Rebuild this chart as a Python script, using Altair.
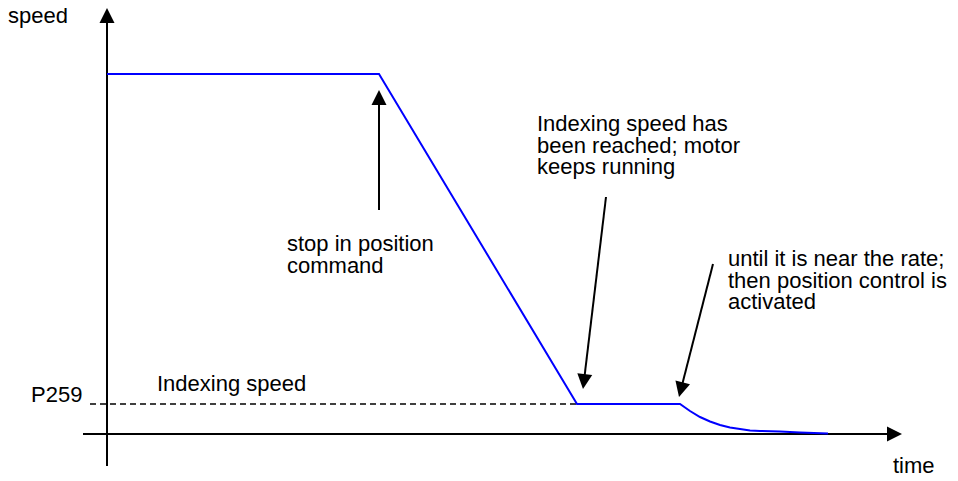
import math
import altair as alt
import pandas as pd

# ---- data (time / speed units) ----
profile_t = [0, 27.2, 47.0, 57.3, 58.3, 59.3, 60.3, 61.3, 62.3, 63.3, 64.3, 65.3, 67.3, 69.3, 72.1]
profile_s = [36, 36, 3.0, 3.0, 2.3, 1.7, 1.25, 0.9, 0.65, 0.5, 0.35, 0.3, 0.25, 0.15, 0.05]

indexing_speed = 3.0
dash_t = [-1.7, 47.0]

axis_x_t = [-2.4, 79.5]   # x axis from, tip
axis_y_s = [-3.2, 42.6]   # y axis from, tip

# annotation arrows: start (t, s) -> tip (t, s)
arrow_start_t = [27.2, 49.9, 60.6]
arrow_start_s = [22.4, 23.7, 17.0]
arrow_tip_t = [27.2, 47.6, 57.2]
arrow_tip_s = [34.4, 4.5, 3.7]

label_text = ["speed", "Indexing speed has", "been reached; motor", "keeps running",
              "stop in position", "command", "until it is near the rate;",
              "then position control is", "activated", "Indexing speed", "P259", "time"]
label_t = [-9.9, 43.0, 43.0, 43.0, 18.0, 18.0, 62.1, 62.1, 62.1, 5.0, -7.6, 78.6]
label_s = [41.1, 30.3, 28.15, 26.0, 18.3, 16.1, 16.8, 14.65, 12.5, 4.35, 3.2, -3.85]

# ---- geometry helpers (scales: 10 px per unit on both axes) ----
W, H = 942, 465
XDOM = [-9.9, 84.3]
YDOM = [-3.9, 42.6]
R = 0.75  # arrowhead half-size in units (7.5 px)
HEAD = "M0,-1L1,1L-1,1Z"

def head(t0, s0, t1, s1):
    dx, dy = (t1 - t0), -(s1 - s0)
    L = math.hypot(dx, dy)
    ux, uy = dx / L, dy / L
    ang = math.degrees(math.atan2(ux, -uy)) % 360
    ct = t1 - ux * R
    cs = s1 + uy * R
    return ct, cs, ang

x = alt.X("t:Q", scale=alt.Scale(domain=XDOM, nice=False, zero=False), axis=None)
y = alt.Y("s:Q", scale=alt.Scale(domain=YDOM, nice=False, zero=False), axis=None)

# axes
ax_x_ct, ax_x_cs, ax_x_ang = head(axis_x_t[0], 0, axis_x_t[1], 0)
ax_y_ct, ax_y_cs, ax_y_ang = head(0, axis_y_s[0], 0, axis_y_s[1])
axes_df = pd.DataFrame({
    "t": [axis_x_t[0], 0], "s": [0, axis_y_s[0]],
    "t2": [ax_x_ct, 0], "s2": [0, ax_y_cs],
})
rules = []
heads = [(ax_x_ct, ax_x_cs, ax_x_ang), (ax_y_ct, ax_y_cs, ax_y_ang)]
for i in range(3):
    ct, cs, ang = head(arrow_start_t[i], arrow_start_s[i], arrow_tip_t[i], arrow_tip_s[i])
    rules.append({"t": arrow_start_t[i], "s": arrow_start_s[i], "t2": ct, "s2": cs})
    heads.append((ct, cs, ang))
arrows_df = pd.concat([axes_df, pd.DataFrame(rules)], ignore_index=True)
heads_df = pd.DataFrame(heads, columns=["t", "s", "ang"])

axis_lines = alt.Chart(arrows_df).mark_rule(color="black", strokeWidth=2).encode(
    x=x, y=y, x2="t2:Q", y2="s2:Q")

arrow_heads = alt.Chart(heads_df).mark_point(
    shape=HEAD, filled=True, color="black", opacity=1, size=225, strokeWidth=0
).encode(x=x, y=y, angle=alt.Angle("ang:Q", scale=None))

dash_df = pd.DataFrame({"t": [dash_t[0]], "t2": [dash_t[1]], "s": [indexing_speed]})
dashed = alt.Chart(dash_df).mark_rule(color="black", strokeWidth=1.5, strokeDash=[6, 4]).encode(
    x=x, x2="t2:Q", y=y)

prof_df = pd.DataFrame({"t": profile_t, "s": profile_s, "o": list(range(len(profile_t)))})
profile = alt.Chart(prof_df).mark_line(color="#0000ff", strokeWidth=2).encode(
    x=x, y=y, order="o:Q")

lab_df = pd.DataFrame({"label": label_text, "t": label_t, "s": label_s})
labels = alt.Chart(lab_df).mark_text(
    align="left", baseline="alphabetic", font="Liberation Sans", fontSize=22, color="black"
).encode(x=x, y=y, text="label:N")

chart = alt.layer(dashed, axis_lines, arrow_heads, profile, labels).properties(
    width=W, height=H, padding=0, autosize=alt.AutoSizeParams(type="none")
).configure_view(stroke=None)

chart.save("out.html", embed_options={"renderer": "svg", "actions": False})
